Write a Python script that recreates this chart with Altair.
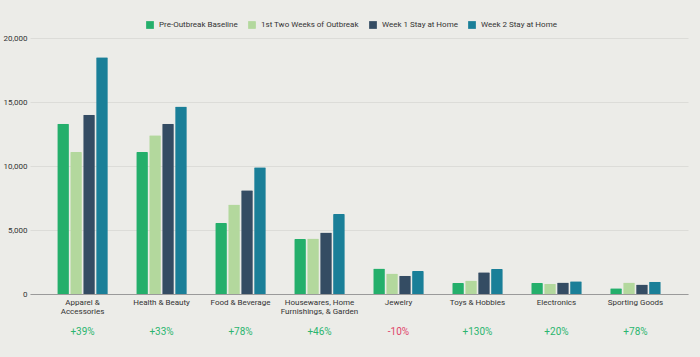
import altair as alt
import pandas as pd

categories = ["Apparel &|Accessories", "Health & Beauty", "Food & Beverage",
              "Housewares, Home|Furnishings, & Garden", "Jewelry", "Toys & Hobbies",
              "Electronics", "Sporting Goods"]
series = ["Pre-Outbreak Baseline", "1st Two Weeks of Outbreak",
          "Week 1 Stay at Home", "Week 2 Stay at Home"]
pre = [13300, 11100, 5550, 4300, 2000, 850, 850, 450]
first2 = [11100, 12400, 7000, 4330, 1600, 1050, 800, 900]
week1 = [14000, 13300, 8100, 4800, 1430, 1700, 900, 750]
week2 = [18500, 14650, 9900, 6250, 1800, 1950, 1000, 950]
changes = ["+39%", "+33%", "+78%", "+46%", "-10%", "+130%", "+20%", "+78%"]
colors = ["#24AF6B", "#B3D89D", "#344C63", "#1A7F98"]

rows = []
for s, vals in zip(series, [pre, first2, week1, week2]):
    for c, v in zip(categories, vals):
        rows.append({"category": c, "series": s, "value": v})
df = pd.DataFrame(rows)
chg = pd.DataFrame({"category": categories, "change": changes})

FONT = "Roboto"
xscale = alt.Scale(domain=categories, paddingInner=0.36, paddingOuter=0.345)

bars = alt.Chart(df).mark_bar(cornerRadiusTopLeft=1, cornerRadiusTopRight=1).encode(
    x=alt.X("category:N", sort=categories, scale=xscale, title=None,
            axis=alt.Axis(labelAngle=0, labelExpr="split(datum.label, '|')",
                          labelFontSize=8, labelColor="#333333", labelFont=FONT,
                          ticks=False, domainColor="#9A9A9A", domainWidth=1.2,
                          labelPadding=4, labelLineHeight=9)),
    xOffset=alt.XOffset("series:N", sort=series, scale=alt.Scale(paddingInner=0.1)),
    y=alt.Y("value:Q", scale=alt.Scale(domain=[0, 20000]), title=None,
            axis=alt.Axis(values=[0, 5000, 10000, 15000, 20000], format=",.0f",
                          labelFontSize=8, labelColor="#333333", labelFont=FONT,
                          ticks=False, domain=False, gridColor="#DCDCD8",
                          gridWidth=1.2, labelPadding=3)),
    color=alt.Color("series:N", sort=series,
                    scale=alt.Scale(domain=series, range=colors),
                    legend=alt.Legend(title=None, orient="none", direction="horizontal",
                                      legendX=116, legendY=-17,
                                      symbolType="square", symbolSize=60,
                                      symbolStrokeWidth=0, labelFontSize=8,
                                      labelFont=FONT, labelColor="#333333",
                                      columnPadding=10, labelOffset=5)),
)

txt = alt.Chart(chg).mark_text(fontSize=10, font=FONT, baseline="middle").encode(
    x=alt.X("category:N", sort=categories, scale=xscale),
    y=alt.value(294),
    text="change:N",
    color=alt.condition("indexof(datum.change, '-') == 0",
                        alt.value("#E0456B"), alt.value("#2BB56E")),
)

chart = alt.layer(bars, txt).properties(
    width=658, height=256,
    background="#ECECE8",
    padding={"left": 30, "top": 38, "right": 12, "bottom": 63},
    autosize=alt.AutoSizeParams(type="none"),
).configure_view(stroke=None)

chart.save("out.html", embed_options={"renderer": "svg", "actions": False})
